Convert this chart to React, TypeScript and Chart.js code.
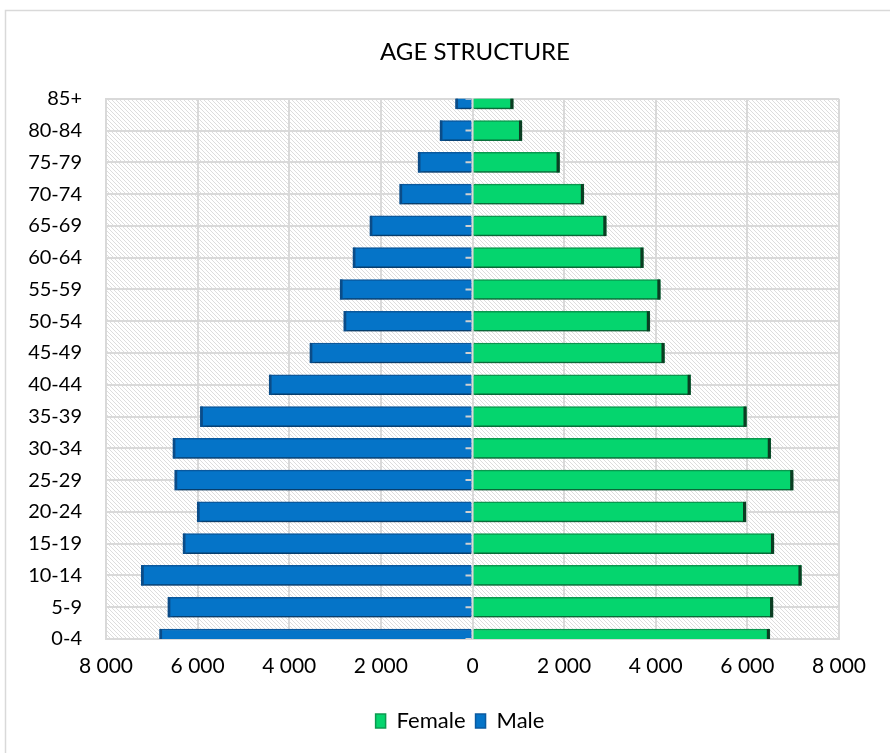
import React, { useEffect, useRef } from "react";
import { Chart, registerables } from "chart.js";

Chart.register(...registerables);

// Age groups, youngest first (the axis is reversed so 85+ sits at the top)
const ageGroups = [
  "0-4", "5-9", "10-14", "15-19", "20-24", "25-29", "30-34", "35-39", "40-44",
  "45-49", "50-54", "55-59", "60-64", "65-69", "70-74", "75-79", "80-84", "85+",
];

const femaleValues = [
  6490, 6560, 7180, 6580, 5970, 7000, 6510, 5980, 4760,
  4190, 3870, 4100, 3730, 2920, 2430, 1900, 1080, 890,
];

const maleValues = [
  6830, 6650, 7230, 6320, 6010, 6500, 6540, 5940, 4440,
  3550, 2810, 2890, 2610, 2240, 1590, 1190, 710, 370,
];

const axisLimit = 8000;
const axisStep = 2000;

const FONT = "Lato, 'Noto Sans', sans-serif";
const GRID = "#d9d9d9";

function makeHatch(): CanvasPattern | string {
  const s = 4;
  const c = document.createElement("canvas");
  c.width = s;
  c.height = s;
  const g = c.getContext("2d");
  if (!g) return "#ffffff";
  g.fillStyle = "#ffffff";
  g.fillRect(0, 0, s, s);
  g.strokeStyle = "#dddddd";
  g.lineWidth = 1;
  g.beginPath();
  g.moveTo(-1, -1);
  g.lineTo(s + 1, s + 1);
  g.moveTo(s - 1, -1);
  g.lineTo(s + 1, 1);
  g.moveTo(-1, s - 1);
  g.lineTo(1, s + 1);
  g.stroke();
  const p = g.createPattern(c, "repeat");
  return p || "#ffffff";
}

function formatThousands(v: number): string {
  const n = Math.abs(Math.round(v));
  return n.toString().replace(/\B(?=(\d{3})+(?!\d))/g, " ");
}

const frameAndHatch = {
  id: "frameAndHatch",
  afterLayout(chart: any) {
    // centre the title over the plot and the legend a little left of it
    if (chart.titleBlock) {
      chart.titleBlock.left = 60;
      chart.titleBlock.right = 890;
    }
    if (chart.legend) {
      chart.legend.left = 30;
      chart.legend.right = 890;
    }
  },
  beforeDraw(chart: any) {
    const { ctx, chartArea } = chart;
    ctx.save();
    ctx.fillStyle = "#ffffff";
    ctx.fillRect(0, 0, chart.width, chart.height);
    ctx.strokeStyle = GRID;
    ctx.lineWidth = 1.5;
    ctx.strokeRect(5.5, 10.5, chart.width + 20, chart.height + 20);
    ctx.fillStyle = makeHatch();
    ctx.fillRect(chartArea.left, chartArea.top, chartArea.right - chartArea.left, chartArea.bottom - chartArea.top);
    ctx.restore();
  },
};

const barEffects = {
  id: "barEffects",
  beforeDatasetsDraw(chart: any) {
    const ctx = chart.ctx;
    ctx.save();
    ctx.shadowColor = "rgba(0,0,0,0.35)";
    ctx.shadowOffsetX = 2;
    ctx.shadowOffsetY = 3;
    ctx.shadowBlur = 4;
  },
  afterDatasetsDraw(chart: any) {
    const ctx = chart.ctx;
    ctx.restore();
    const area = chart.chartArea;
    ctx.save();
    ctx.beginPath();
    ctx.rect(area.left, area.top, area.right - area.left, area.bottom - area.top);
    ctx.clip();
    chart.data.datasets.forEach((ds: any, i: number) => {
      const meta = chart.getDatasetMeta(i);
      meta.data.forEach((bar: any) => {
        const { x, base, y, height } = bar.getProps(["x", "base", "y", "height"], true);
        const h = height;
        ctx.fillStyle = ds.capColor;
        if (x < base) ctx.fillRect(x, y - h / 2, 2.5, h);
        else ctx.fillRect(x - 3, y - h / 2, 3, h);
      });
    });
    // short tick marks where the category axis crosses zero
    const xs = chart.scales.x;
    const ys = chart.scales.y;
    const x0 = xs.getPixelForValue(0);
    ctx.strokeStyle = "#d0d0d0";
    ctx.lineWidth = 2;
    ageGroups.forEach((_, idx) => {
      const yy = ys.getPixelForValue(idx);
      ctx.beginPath();
      ctx.moveTo(x0 - 7, yy);
      ctx.lineTo(x0 - 1, yy);
      ctx.stroke();
    });
    ctx.restore();
  },
};

export default function App() {
  const ref = useRef<HTMLCanvasElement | null>(null);

  useEffect(() => {
    if (!ref.current) return;
    const chart = new Chart(ref.current, {
      type: "bar",
      data: {
        labels: ageGroups,
        datasets: [
          {
            label: "Female",
            data: femaleValues,
            backgroundColor: "#05d56e",
            borderColor: "#0c9a50",
            borderWidth: 1.5,
            borderSkipped: "start",
            barThickness: 20,
            clip: 0,
            capColor: "#0b3d22",
          } as any,
          {
            label: "Male",
            data: maleValues.map((v) => -v),
            backgroundColor: "#0574c8",
            borderColor: "#0b5aa0",
            borderWidth: 1.5,
            borderSkipped: "start",
            barThickness: 20,
            clip: 0,
            capColor: "#0b4c88",
          } as any,
        ],
      },
      options: {
        indexAxis: "y",
        animation: false,
        responsive: false,
        devicePixelRatio: 1,
        layout: { padding: { left: 6, right: 51, top: 0, bottom: 11 } },
        scales: {
          x: {
            stacked: true,
            min: -axisLimit,
            max: axisLimit,
            ticks: {
              stepSize: axisStep,
              color: "#000000",
              font: { family: FONT, size: 21 },
              padding: 15,
              callback: (v: any) => formatThousands(Number(v)),
            },
            grid: { color: GRID, lineWidth: 2, drawTicks: false },
            border: { display: true, color: GRID, width: 2 },
            afterFit: (scale: any) => {
              scale.height = 61;
            },
          },
          y: {
            stacked: true,
            reverse: true,
            offset: false,
            ticks: {
              color: "#000000",
              font: { family: FONT, size: 20 },
              padding: 24,
              autoSkip: false,
            },
            grid: { color: GRID, lineWidth: 2, drawTicks: false, offset: false },
            border: { display: true, color: GRID, width: 2 },
            afterFit: (scale: any) => {
              scale.width = 100;
            },
          },
        },
        plugins: {
          title: {
            display: true,
            text: "AGE STRUCTURE",
            color: "#000000",
            font: { family: FONT, size: 24, weight: "normal" },
            padding: { top: 38, bottom: 32 },
          },
          legend: {
            position: "bottom",
            labels: {
              color: "#000000",
              font: { family: FONT, size: 22 },
              boxWidth: 10,
              boxHeight: 14,
              padding: 10,
            },
          },
          tooltip: { enabled: false },
        },
      } as any,
      plugins: [frameAndHatch, barEffects],
    });
    return () => chart.destroy();
  }, []);

  return (
    <canvas
      ref={ref}
      width={890}
      height={753}
      style={{ position: "fixed", left: 0, top: 0, width: 890, height: 753 }}
    />
  );
}
